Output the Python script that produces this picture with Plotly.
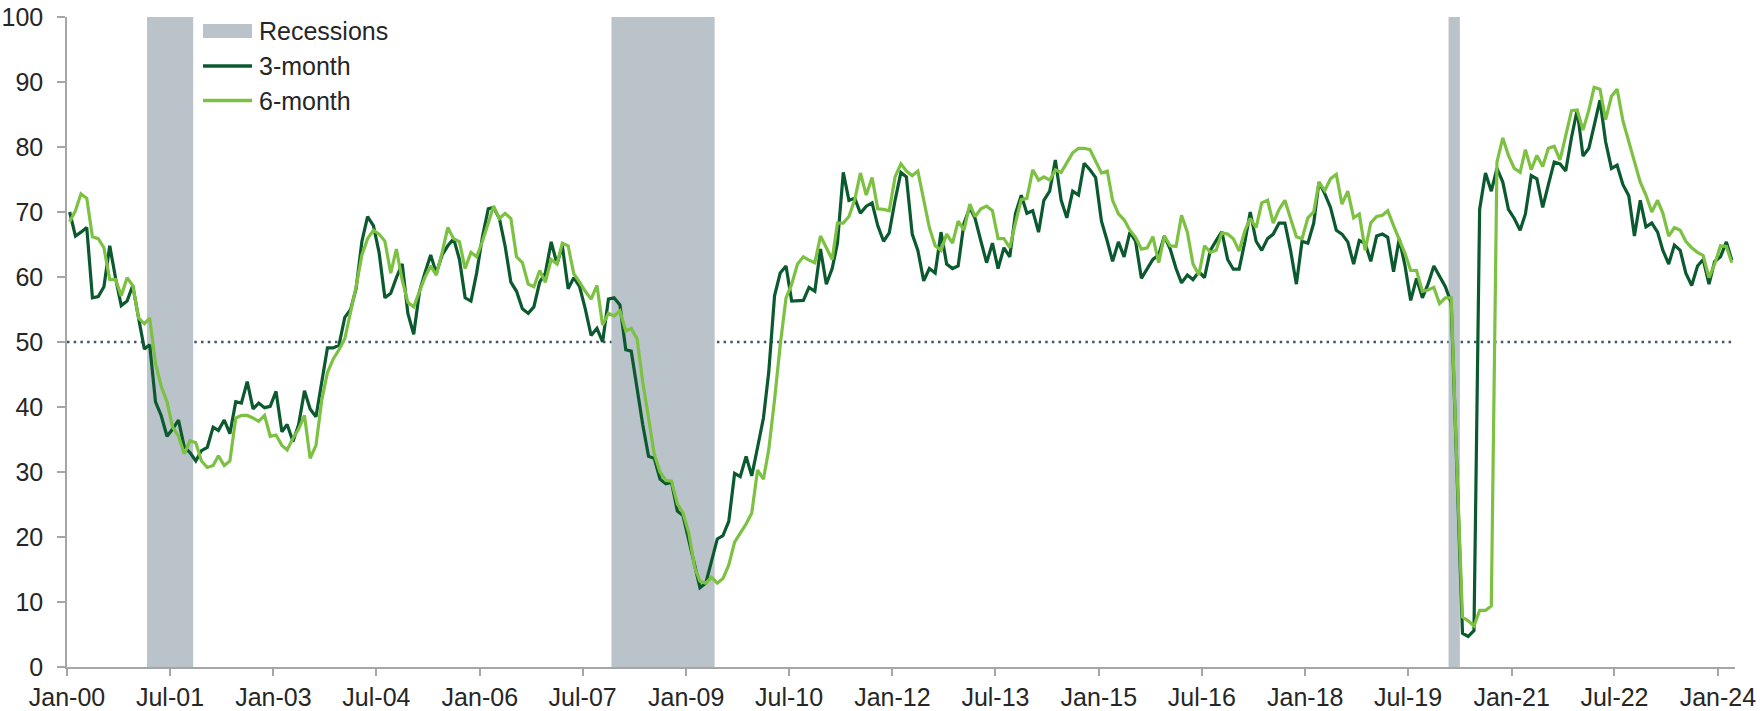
import pandas as pd
import plotly.graph_objects as go

# ---------------- data (monthly, Jan 2000 - Mar 2024) ----------------
start_month = "2000-01-01"

three_month = [
    # 2000-01 .. 2004-10
    70.0, 66.3, 66.9, 67.6, 56.8, 57.0, 58.5, 64.8, 59.8, 55.6, 56.3, 58.7,
    53.7, 48.9, 49.6, 40.8, 38.7, 35.5, 36.6, 38.0, 33.8, 33.0, 31.7, 33.3,
    33.8, 36.9, 36.4, 38.0, 35.9, 40.8, 40.6, 43.9, 39.7, 40.6, 39.9, 40.1,
    42.4, 36.2, 37.3, 34.7, 37.3, 42.5, 39.7, 38.5, 43.9, 49.1, 49.1, 49.5,
    53.8, 55.0, 58.2, 65.5, 69.3, 67.9, 63.8, 56.8, 57.5, 59.9,
    # 2004-11 .. 2011-05
    62.0, 54.4, 51.2, 57.8, 60.6, 63.4, 60.6, 63.4, 64.8, 65.9,
    62.7, 56.8, 56.3, 60.6, 66.2, 70.5, 70.7, 69.0, 64.8, 59.2,
    57.8, 55.1, 54.4, 55.4, 59.2, 60.6, 65.4, 62.0, 64.8, 58.2,
    59.9, 58.5, 55.1, 51.0, 52.1, 50.0, 56.6, 56.8, 55.7, 48.8,
    48.6, 42.5, 37.3, 32.4, 32.1, 28.9, 28.2, 28.4, 24.0, 23.3,
    19.5, 15.3, 12.2, 12.9, 16.4, 19.7, 20.2, 22.4, 29.8, 29.3,
    32.4, 29.4, 33.8, 38.3, 45.3, 57.1, 60.6, 61.7, 56.3, 56.4,
    56.4, 58.4, 57.8, 64.3, 58.9, 61.3, 65.2, 76.1, 71.8,
    # 2011-06 .. 2017-11
    72.1, 69.8, 70.9, 71.4, 67.9, 65.5, 66.8, 71.8, 76.1, 75.4,
    66.6, 64.1, 59.4, 61.3, 60.6, 66.9, 62.0, 61.3, 61.7, 68.3,
    70.7, 69.0, 65.5, 62.2, 65.2, 61.3, 64.5, 63.1, 69.7, 72.6,
    69.8, 70.2, 66.9, 71.8, 73.2, 78.0, 71.8, 69.1, 73.2, 72.6,
    77.5, 76.5, 75.3, 68.6, 65.5, 62.4, 65.4, 63.1, 66.9, 65.5,
    59.8, 61.2, 62.7, 63.4, 66.3, 64.3, 61.3, 59.1, 60.3, 59.6,
    60.8, 59.9, 64.1, 65.6, 67.0, 62.7, 61.2, 61.2, 65.5, 70.0,
    65.5, 64.1, 65.9, 66.6, 68.3, 68.3, 64.1, 58.9,
    # 2017-12 .. 2024-03
    65.5, 65.2, 68.3, 74.6, 72.8, 70.7, 67.2, 66.6, 65.4, 62.0,
    65.6, 65.2, 62.4, 66.3, 66.6, 66.1, 60.8, 65.9, 61.7, 56.4,
    59.8, 56.8, 58.9, 61.7, 60.1, 58.5, 56.0, 30.5, 5.2, 4.7,
    5.6, 70.4, 76.0, 73.2, 76.7, 74.6, 70.4, 69.0, 67.2, 69.7,
    75.6, 75.1, 70.7, 74.2, 77.7, 77.4, 76.3, 81.5, 85.7, 78.6,
    79.8, 83.3, 87.2, 80.8, 76.7, 77.2, 74.2, 72.5, 66.3, 71.8,
    67.7, 68.3, 66.9, 64.1, 62.0, 64.9, 64.1, 60.6, 58.7, 61.7,
    62.7, 58.9, 62.4, 63.1, 65.4, 62.6,
]

six_month = [
    # 2000-01 .. 2004-10
    68.5, 70.2, 72.8, 72.1, 66.2, 65.9, 64.5, 59.6, 59.6, 57.1, 59.9, 58.7,
    53.7, 52.8, 53.7, 46.7, 43.2, 40.8, 36.9, 35.5, 32.8, 34.8, 34.5, 31.7,
    30.7, 31.0, 32.5, 31.0, 31.7, 38.3, 38.7, 38.7, 38.3, 37.8, 38.7, 35.5,
    35.7, 34.1, 33.4, 35.2, 36.6, 38.7, 32.1, 34.1, 41.1, 45.3, 47.4, 48.8,
    50.5, 54.4, 58.5, 63.4, 65.9, 67.2, 66.6, 65.5, 60.6, 64.3,
    # 2004-11 .. 2011-05
    59.5, 56.1, 55.4, 57.8, 59.9, 61.7, 60.3, 63.8, 67.6, 65.9,
    65.4, 61.3, 63.8, 63.1, 65.5, 68.3, 70.9, 69.0, 69.8, 69.0,
    63.1, 62.2, 58.9, 58.5, 61.0, 59.2, 62.7, 62.0, 65.2, 64.8,
    60.5, 59.2, 57.8, 56.6, 58.7, 52.6, 54.4, 54.0, 54.8, 51.7,
    52.1, 50.5, 43.9, 38.3, 32.8, 30.0, 28.7, 28.6, 25.1, 23.7,
    20.6, 15.3, 13.2, 12.9, 13.8, 12.9, 13.6, 15.7, 19.2, 20.6,
    22.0, 23.7, 30.3, 28.9, 33.4, 41.1, 49.5, 56.8, 58.9, 62.0,
    63.1, 62.6, 62.2, 66.3, 64.5, 62.7, 68.3, 68.3, 69.3,
    # 2011-06 .. 2017-11
    71.9, 76.0, 72.6, 75.3, 70.5, 70.4, 70.2, 75.4, 77.4, 76.3,
    75.6, 76.3, 71.9, 67.6, 64.8, 64.1, 66.6, 65.2, 68.6, 67.2,
    71.2, 69.3, 70.5, 70.9, 70.2, 65.9, 65.9, 64.5, 68.3, 71.9,
    72.1, 76.5, 74.9, 75.4, 74.9, 76.5, 76.1, 77.7, 79.1, 79.8,
    79.8, 79.6, 77.7, 76.0, 76.3, 71.8, 69.7, 68.8, 67.2, 66.1,
    64.3, 64.5, 66.2, 62.2, 66.3, 64.8, 64.7, 69.5, 66.9, 62.0,
    60.3, 64.8, 63.8, 64.1, 66.8, 66.6, 65.9, 64.0, 67.2, 69.0,
    67.6, 71.4, 71.8, 68.3, 70.4, 71.8, 69.0, 66.2,
    # 2017-12 .. 2024-03
    65.9, 69.1, 70.0, 74.6, 73.3, 75.1, 75.8, 71.2, 73.2, 69.1,
    69.7, 64.1, 68.3, 69.3, 69.5, 70.2, 67.9, 65.9, 63.6, 61.0,
    61.0, 57.8, 58.0, 58.4, 55.9, 56.8, 56.8, 32.0, 7.7, 7.1,
    6.3, 8.7, 8.7, 9.4, 77.7, 81.4, 78.7, 76.7, 76.1, 79.6,
    76.5, 78.7, 77.0, 79.8, 80.1, 78.0, 81.5, 85.6, 85.7, 82.6,
    85.7, 89.2, 88.9, 84.2, 87.8, 88.9, 84.0, 80.8, 77.7, 74.6,
    72.6, 70.0, 71.8, 69.8, 66.3, 67.6, 67.2, 65.5, 64.5, 63.8,
    63.3, 59.9, 62.0, 64.8, 64.7, 62.2,
]

recession_starts = ["2001-03-01", "2007-12-01", "2020-02-01"]
recession_ends = ["2001-11-01", "2009-06-01", "2020-04-01"]

threshold = 50

y_ticks = list(range(0, 101, 10))
x_range = ["2000-01-01", "2024-04-01"]

# ---------------- styling ----------------
DARK = "#0B5A2F"
LIGHT = "#7CC142"
GREY_REC = "#BAC3C9"
AXIS = "#A6A6A6"
TEXT = "#262626"
FONT = "Liberation Sans, Arial, sans-serif"
FS = 25
FS_LEG = 25

W, H = 1760, 711
L, R, T, B = 67, 25, 17, 44

n = min(len(three_month), len(six_month))
dates = pd.date_range(start_month, periods=n, freq="MS") + pd.Timedelta(days=14)

fig = go.Figure()

fig.add_trace(go.Scatter(x=dates, y=three_month[:n], mode="lines", name="3-month",
                         line=dict(color=DARK, width=3.2), showlegend=False))
fig.add_trace(go.Scatter(x=dates, y=six_month[:n], mode="lines", name="6-month",
                         line=dict(color=LIGHT, width=3.2), showlegend=False))

shapes = []
for s, e in zip(recession_starts, recession_ends):
    shapes.append(dict(type="rect", xref="x", yref="y", x0=s, x1=e, y0=0, y1=100,
                       fillcolor=GREY_REC, line=dict(width=0), layer="below"))
shapes.append(dict(type="line", xref="paper", yref="y", x0=0, x1=1, y0=threshold, y1=threshold,
                   line=dict(color="#44546A", width=2.5, dash="2.5px,4.2px"), layer="below"))

# ---- manual legend (pixel positions converted to paper coords) ----
pw, ph = W - L - R, H - T - B
def px(xp):
    return (xp - L) / pw
def py(yp):
    return (H - B - yp) / ph

leg_x0, leg_x1, txt_x = 203, 252, 257
rows = [31, 66, 100.5]
shapes.append(dict(type="rect", xref="paper", yref="paper", x0=px(leg_x0), x1=px(leg_x1),
                   y0=py(rows[0] + 7), y1=py(rows[0] - 7), fillcolor=GREY_REC, line=dict(width=0)))
shapes.append(dict(type="line", xref="paper", yref="paper", x0=px(leg_x0), x1=px(leg_x1),
                   y0=py(rows[1]), y1=py(rows[1]), line=dict(color=DARK, width=3.5)))
shapes.append(dict(type="line", xref="paper", yref="paper", x0=px(leg_x0), x1=px(leg_x1),
                   y0=py(rows[2]), y1=py(rows[2]), line=dict(color=LIGHT, width=3.5)))

annotations = []
for label, ry in zip(["Recessions", "3-month", "6-month"], rows):
    annotations.append(dict(text=label, xref="paper", yref="paper", x=px(txt_x), y=py(ry),
                            xanchor="left", yanchor="middle", showarrow=False,
                            font=dict(family=FONT, size=FS_LEG, color=TEXT)))

fig.update_layout(
    width=W, height=H,
    margin=dict(l=L, r=R, t=T, b=B, pad=0, autoexpand=False),
    paper_bgcolor="white", plot_bgcolor="white",
    font=dict(family=FONT, size=FS, color=TEXT),
    shapes=shapes, annotations=annotations,
    showlegend=False,
    hovermode=False,
)

fig.update_xaxes(
    type="date", range=x_range, automargin=False,
    tick0="2000-01-01", dtick="M18", tickformat="%b-%y",
    showgrid=False, zeroline=False,
    showline=True, linecolor=AXIS, linewidth=1.5,
    ticks="outside", ticklen=7, tickcolor=AXIS, tickwidth=1.5,
    tickfont=dict(family=FONT, size=FS, color=TEXT),
)
fig.update_yaxes(
    range=[0, 100], tickvals=y_ticks, automargin=False,
    showgrid=False, zeroline=False,
    showline=True, linecolor=AXIS, linewidth=1.5,
    ticks="outside", ticklen=8, tickcolor=AXIS, tickwidth=1.5,
    ticklabelstandoff=9,
    tickfont=dict(family=FONT, size=FS, color=TEXT),
)

fig.write_html(
    "out.html",
    config={"displayModeBar": False},
    post_script="document.body.style.margin='0';document.body.style.overflow='hidden';",
)
